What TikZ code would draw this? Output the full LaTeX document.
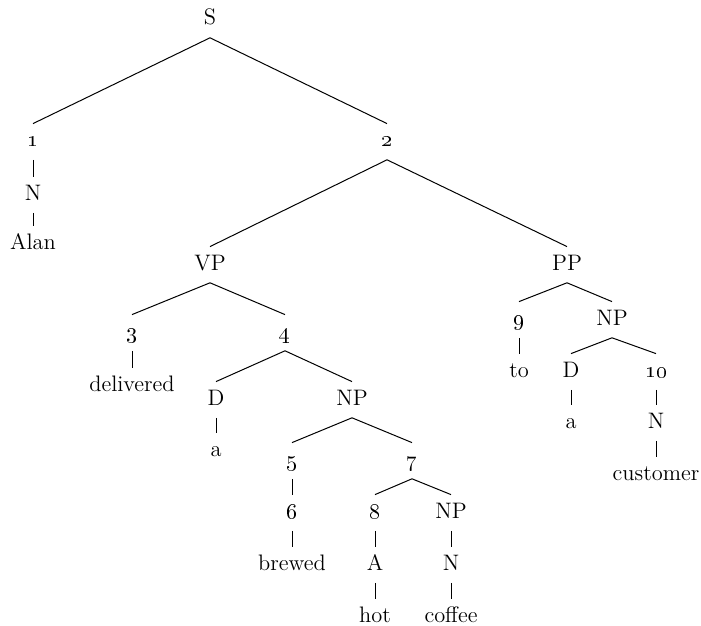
\documentclass[tikz,border=0pt]{standalone}
\newcommand\osn[1]{\oldstylenums{#1}}
\begin{document}
\begin{tikzpicture}[x=0.5pt,y=-0.5pt,
  lab/.style={inner sep=0pt,anchor=base,text height=8pt,text depth=0pt,font=\fontsize{11.2}{14}\selectfont},
  edge/.style={line width=0.5pt}]
\useasboundingbox (0,0) rectangle (701,626);
% nodes
\node[lab] (S) at (210,25) {S};
\node[lab] (n1) at (33,147) {\osn{1}};
\node[lab] (N1) at (33,200) {N};
\node[lab] (Alan) at (33,249) {Alan};
\node[lab] (n2) at (387,147) {\osn{2}};
\node[lab] (VP) at (210,270) {VP};
\node[lab] (PP) at (567,270) {PP};
\node[lab] (n3) at (132,338) {\osn{3}};
\node[lab] (deliv) at (132,391) {delivered};
\node[lab] (n4) at (285,338) {\osn{4}};
\node[lab] (D1) at (216,405) {D};
\node[lab] (a1) at (216,456) {a};
\node[lab] (NP1) at (352,405) {NP};
\node[lab] (n5) at (292,466) {\osn{5}};
\node[lab] (n6) at (292,518) {\osn{6}};
\node[lab] (brewed) at (292,570) {brewed};
\node[lab] (n7) at (412,466) {\osn{7}};
\node[lab] (n8) at (375,518) {\osn{8}};
\node[lab] (A) at (375,570) {A};
\node[lab] (hot) at (375,622) {hot};
\node[lab] (NP2) at (451,518) {NP};
\node[lab] (N2) at (451,570) {N};
\node[lab] (coffee) at (451,622) {coffee};
\node[lab] (n9) at (519,325) {\osn{9}};
\node[lab] (to) at (519,377) {to};
\node[lab] (NP3) at (612,325) {NP};
\node[lab] (D2) at (571,377) {D};
\node[lab] (a2) at (571,428) {a};
\node[lab] (n10) at (656,377) {\osn{10}};
\node[lab] (N3) at (656,428) {N};
\node[lab] (cust) at (656,480) {customer};
% edges
\foreach \p/\c in {S/n1,S/n2,n1/N1,N1/Alan,n2/VP,n2/PP,VP/n3,VP/n4,n3/deliv,n4/D1,n4/NP1,D1/a1,NP1/n5,NP1/n7,n5/n6,n6/brewed,n7/n8,n7/NP2,n8/A,A/hot,NP2/N2,N2/coffee,PP/n9,PP/NP3,n9/to,NP3/D2,NP3/n10,D2/a2,n10/N3,N3/cust}
  \draw[edge] ([yshift=-6.2pt]\p.south) -- ([yshift=3.5pt]\c.north);
\end{tikzpicture}
\end{document}
